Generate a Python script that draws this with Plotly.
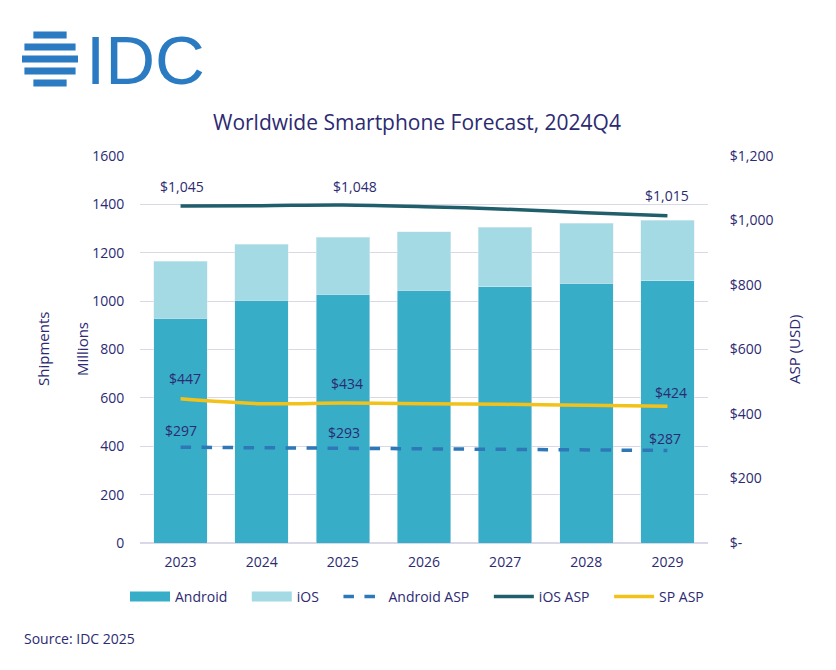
import plotly.graph_objects as go

years = ["2023", "2024", "2025", "2026", "2027", "2028", "2029"]
android = [930, 1003, 1028, 1045, 1060, 1074, 1084]
ios = [234, 233, 236, 241, 245, 248, 251]
android_asp = [297, 295, 293, 292, 291, 289, 287]
ios_asp = [1045, 1046, 1048, 1043, 1035, 1024, 1015]
sp_asp = [447, 432, 434, 432, 430, 427, 424]
label_idx = [0, 2, 6]

left_ticks = [0, 200, 400, 600, 800, 1000, 1200, 1400, 1600]
right_ticks = [0, 200, 400, 600, 800, 1000, 1200]
right_ticktext = ["$-", "$200", "$400", "$600", "$800", "$1,000", "$1,200"]

NAVY = "#2C2A72"
FONT = "Open Sans"
W, H = 836, 670
ML, MR, MT, MB = 140, 128, 156, 127
PW, PH = W - ML - MR, H - MT - MB
C_AND, C_IOS = "#38ADC7", "#A3DAE4"
PAD = "\u00a0\u00a0\u00a0\u00a0"


def px(x):
    return (x - ML) / PW


def py(y):
    return (H - MB - y) / PH


fig = go.Figure()
fig.add_trace(go.Bar(x=years, y=android, name="Android", marker_color=C_AND,
                     showlegend=False))
fig.add_trace(go.Bar(x=years, y=ios, name="iOS", marker_color=C_IOS, showlegend=False))
# legend proxies drawn as wide rectangles
fig.add_trace(go.Scatter(x=[None], y=[None], name="Android" + PAD, mode="lines",
                         line=dict(color=C_AND, width=10)))
fig.add_trace(go.Scatter(x=[None], y=[None], name="iOS" + PAD, mode="lines",
                         line=dict(color=C_IOS, width=10)))
fig.add_trace(go.Scatter(x=years, y=android_asp, name="Android ASP" + PAD, mode="lines",
                         line=dict(color="#2E78B7", width=3.5, dash="dash"), yaxis="y2"))
fig.add_trace(go.Scatter(x=years, y=ios_asp, name="iOS ASP" + PAD, mode="lines",
                         line=dict(color="#1F5E6A", width=3.5, shape="spline"), yaxis="y2"))
fig.add_trace(go.Scatter(x=years, y=sp_asp, name="SP ASP", mode="lines",
                         line=dict(color="#F2C21B", width=3.5, shape="spline"), yaxis="y2"))

annotations = []
offsets = {
    "ios": [(1, 19), (12, 19), (0, 20)],
    "sp": [(4, 20), (4, 20), (4, 14)],
    "and": [(0, 17), (1, 16), (-2, 12)],
}
for key, series in (("ios", ios_asp), ("sp", sp_asp), ("and", android_asp)):
    for k, i in enumerate(label_idx):
        dx, dy = offsets[key][k]
        annotations.append(dict(x=i, y=series[i], xref="x", yref="y2",
                                text=f"${series[i]:,}", showarrow=False,
                                xshift=dx, yshift=dy,
                                font=dict(size=14, color=NAVY, family=FONT)))

annotations.append(dict(x=px(84), y=py(60), xref="paper", yref="paper",
                        text="IDC", showarrow=False, xanchor="left", yanchor="middle",
                        font=dict(size=69, color="#2A7BC2", family="Liberation Sans")))
annotations.append(dict(x=px(43), y=py(349), xref="paper", yref="paper",
                        text="Shipments", textangle=-90, showarrow=False,
                        xanchor="center", yanchor="middle",
                        font=dict(size=15, color=NAVY, family=FONT)))
annotations.append(dict(x=px(82), y=py(349), xref="paper", yref="paper",
                        text="Millions", textangle=-90, showarrow=False,
                        xanchor="center", yanchor="middle",
                        font=dict(size=15, color=NAVY, family=FONT)))
annotations.append(dict(x=px(794), y=py(349), xref="paper", yref="paper",
                        text="ASP (USD)", textangle=-90, showarrow=False,
                        xanchor="center", yanchor="middle",
                        font=dict(size=15, color=NAVY, family=FONT)))
annotations.append(dict(x=px(22), y=py(638), xref="paper", yref="paper",
                        text="Source: IDC 2025", showarrow=False, xanchor="left",
                        yanchor="middle",
                        font=dict(size=14, color=NAVY, family=FONT)))
annotations.append(dict(x=px(417), y=py(122), xref="paper", yref="paper",
                        text="Worldwide Smartphone Forecast, 2024Q4", showarrow=False,
                        xanchor="center", yanchor="middle",
                        font=dict(size=21, color=NAVY, family=FONT)))

shapes = []
cx, cy, r = 50, 59, 31
for dy in (-24, -12, 0, 12, 24):
    half = (r ** 2 - dy ** 2) ** 0.5
    shapes.append(dict(type="line", xref="paper", yref="paper",
                       x0=px(cx - half + 3), x1=px(cx + half - 3),
                       y0=py(cy + dy), y1=py(cy + dy),
                       line=dict(color="#2A7BC2", width=7)))

fig.update_layout(
    width=W, height=H,
    barmode="stack", bargap=0.34,
    paper_bgcolor="white", plot_bgcolor="white",
    font=dict(family=FONT, color=NAVY, size=14),
    margin=dict(l=ML, r=MR, t=MT, b=MB),
    showlegend=True,
    legend=dict(orientation="h", x=px(125), xanchor="left", y=py(597), yanchor="middle",
                font=dict(size=14, color=NAVY, family=FONT), traceorder="normal",
                itemwidth=40),
    xaxis=dict(type="category", categoryorder="array", categoryarray=years,
               range=[-0.5, len(years) - 0.5], autorange=False,
               showgrid=False, showline=False, ticks="outside", ticklen=6,
               tickcolor="rgba(0,0,0,0)", tickfont=dict(size=14)),
    yaxis=dict(range=[0, 1600], tickvals=left_ticks, showgrid=True, gridcolor="#D8D8E6",
               gridwidth=1, zeroline=True, zerolinecolor="#D8D8E6",
               ticks="outside", ticklen=12, tickcolor="rgba(0,0,0,0)",
               tickfont=dict(size=14)),
    yaxis2=dict(range=[0, 1200], tickvals=right_ticks, ticktext=right_ticktext,
                overlaying="y", side="right", showgrid=False, zeroline=False,
                ticks="outside", ticklen=18, tickcolor="rgba(0,0,0,0)",
                tickfont=dict(size=14)),
    annotations=annotations,
    shapes=shapes,
)

fig.write_html("out.html")
